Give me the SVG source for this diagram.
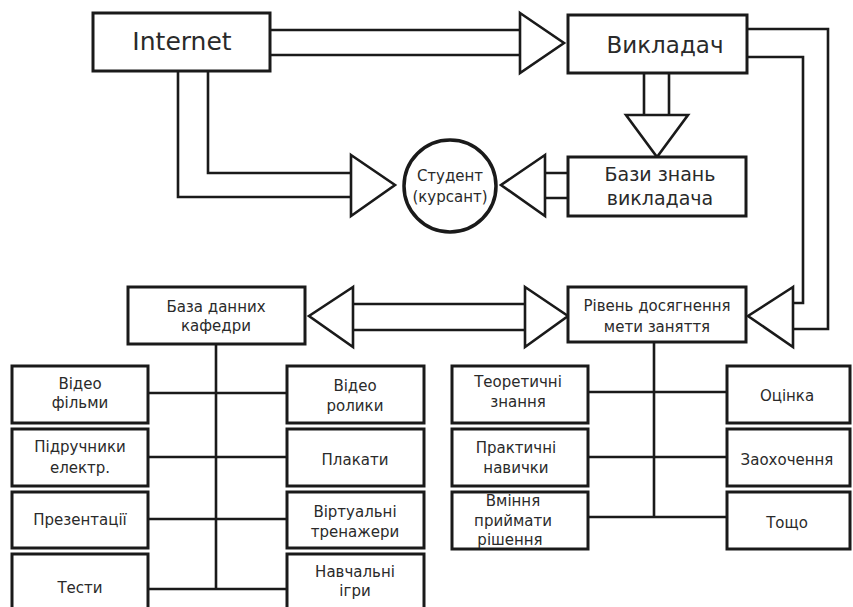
<svg xmlns="http://www.w3.org/2000/svg" width="853" height="607" viewBox="0 0 853 607">
<style>
.b{fill:#fff;stroke:#1a1a1a;stroke-width:3}
.l{fill:none;stroke:#1a1a1a;stroke-width:2.6}
.a{fill:#fff;stroke:#1a1a1a;stroke-width:2.6;stroke-linejoin:miter}
text{font-family:"DejaVu Sans","Noto Sans",sans-serif;fill:#2a2a2a;text-anchor:middle}
.t1{font-size:23px}
.t2{font-size:19px}
.t3{font-size:15px}
</style>
<rect width="853" height="607" fill="#fff"/>
<g id="connectors">
<path class="l" d="M270 30H520M270 55H520"/>
<path class="l" d="M178 71V197H351M208 71V173H351"/>
<path class="l" d="M644 73V115M669 73V115"/>
<path class="l" d="M747 29H828V329H793M747 57H803V303H793"/>
<path class="l" d="M545 173H568M545 198H568"/>
<path class="l" d="M353 304H525M353 330H525"/>
<path class="l" d="M216 344V589M148 393H287M148 457H287M148 519H287M148 589H287"/>
<path class="l" d="M654 342V517M588 392H727M588 457H727M588 517H727"/>
<polygon class="a" points="520,13 564,43 520,73"/>
<polygon class="a" points="626,115 688,115 657,157"/>
<polygon class="a" points="351,155 395,185 351,216"/>
<polygon class="a" points="545,155 501,185 545,216"/>
<polygon class="a" points="353,287 309,316 353,347"/>
<polygon class="a" points="525,287 568,316 525,347"/>
<polygon class="a" points="793,287 748,316 793,347"/>
</g>
<g id="internet"><rect class="b" x="93" y="13" width="177" height="58"/><text x="182" y="50" style="font-size:25px">Internet</text></g>
<g id="vykladach"><rect class="b" x="568" y="15" width="179" height="58"/><text class="t1" x="665" y="53">Викладач</text></g>
<g id="student"><circle cx="450" cy="186" r="46" fill="#fff" stroke="#1a1a1a" stroke-width="3.5"/><text class="t3" x="450" y="181">Студент</text><text class="t3" x="450" y="202">(курсант)</text></g>
<g id="bazy-znan"><rect class="b" x="568" y="157" width="178" height="59"/><text class="t2" x="660" y="181">Бази знань</text><text class="t2" x="660" y="205">викладача</text></g>
<g id="riven"><rect class="b" x="568" y="287" width="178" height="55"/><text class="t3" x="657" y="311">Рівень досягнення</text><text class="t3" x="657" y="332">мети заняття</text></g>
<g id="baza-danykh"><rect class="b" x="128" y="287" width="177" height="57"/><text class="t3" x="216" y="312">База данних</text><text class="t3" x="216" y="331">кафедри</text></g>
<g id="video-filmy"><rect class="b" x="12" y="366" width="136" height="57"/><text class="t3" x="80" y="389">Відео</text><text class="t3" x="80" y="408">фільми</text></g>
<g id="pidruchnyky"><rect class="b" x="12" y="429" width="136" height="57"/><text class="t3" x="80" y="452">Підручники</text><text class="t3" x="80" y="473">електр.</text></g>
<g id="prezentatsii"><rect class="b" x="12" y="492" width="136" height="56"/><text class="t3" x="80" y="525">Презентації</text></g>
<g id="testy"><rect class="b" x="12" y="554" width="136" height="60"/><text class="t3" x="80" y="593">Тести</text></g>
<g id="video-roliky"><rect class="b" x="287" y="366" width="137" height="57"/><text class="t3" x="355" y="391">Відео</text><text class="t3" x="355" y="411">ролики</text></g>
<g id="plakaty"><rect class="b" x="287" y="429" width="137" height="57"/><text class="t3" x="355" y="465">Плакати</text></g>
<g id="virtualni"><rect class="b" x="287" y="492" width="137" height="56"/><text class="t3" x="355" y="517">Віртуальні</text><text class="t3" x="355" y="537">тренажери</text></g>
<g id="navchalni"><rect class="b" x="287" y="554" width="137" height="60"/><text class="t3" x="355" y="577">Навчальні</text><text class="t3" x="355" y="596">ігри</text></g>
<g id="teoretychni"><rect class="b" x="452" y="366" width="136" height="57"/><text class="t3" x="518" y="387">Теоретичні</text><text class="t3" x="518" y="407">знання</text></g>
<g id="praktychni"><rect class="b" x="452" y="429" width="136" height="57"/><text class="t3" x="516" y="453">Практичні</text><text class="t3" x="516" y="473">навички</text></g>
<g id="vminnia"><rect class="b" x="452" y="492" width="136" height="57"/><text class="t3" x="513" y="506">Вміння</text><text class="t3" x="513" y="526">приймати</text><text class="t3" x="510" y="545">рішення</text></g>
<g id="otsinka"><rect class="b" x="727" y="366" width="123" height="57"/><text class="t3" x="787" y="401">Оцінка</text></g>
<g id="zaokhochennia"><rect class="b" x="727" y="429" width="123" height="57"/><text class="t3" x="787" y="465">Заохочення</text></g>
<g id="toshcho"><rect class="b" x="727" y="492" width="123" height="57"/><text class="t3" x="787" y="528">Тощо</text></g>
</svg>
